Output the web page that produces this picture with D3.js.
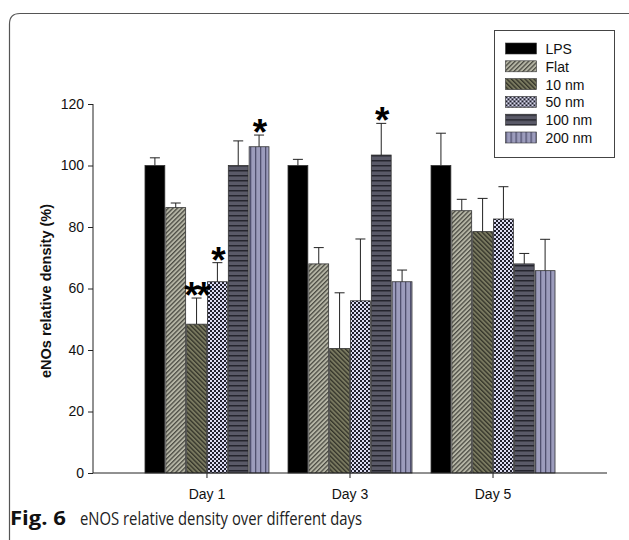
<!DOCTYPE html>
<html>
<head>
<meta charset="utf-8">
<script src="https://cdn.jsdelivr.net/npm/d3@7"></script>
<style>
  body { margin: 0; background: #fff; }
  svg { display: block; }
</style>
</head>
<body>
<svg id="chart" width="629" height="540"></svg>
<script>
// data
var days = ["Day 1", "Day 3", "Day 5"];
var series = ["LPS", "Flat", "10 nm", "50 nm", "100 nm", "200 nm"];
var means = [
  [100, 100, 100],      // LPS
  [86.3, 68, 85.3],     // Flat
  [48.4, 40.5, 78.5],   // 10 nm
  [62.2, 56, 82.6],     // 50 nm
  [100, 103.4, 68],     // 100 nm
  [106.1, 62.2, 65.8]   // 200 nm
];
var errors = [
  [2.5, 2, 10.5],
  [1.5, 5.3, 3.7],
  [8.5, 18.1, 10.8],
  [6.2, 20.1, 10.5],
  [8, 10.3, 3.4],
  [3.8, 3.8, 10.2]
];
var yTicks = [0, 20, 40, 60, 80, 100, 120];
var marks = [
  { day: "Day 1", series: "10 nm", label: "**" },
  { day: "Day 1", series: "50 nm", label: "*" },
  { day: "Day 1", series: "200 nm", label: "*" },
  { day: "Day 3", series: "100 nm", label: "*" }
];

var FONT = "'Liberation Sans', Arial, sans-serif";
var svg = d3.select("#chart");
var defs = svg.append("defs");

// fill patterns
function stripes(id, size, bg, fg, w, rot) {
  var p = defs.append("pattern").attr("id", id)
    .attr("patternUnits", "userSpaceOnUse")
    .attr("width", size).attr("height", size);
  if (rot) p.attr("patternTransform", "rotate(" + rot + ")");
  p.append("rect").attr("width", size).attr("height", size).attr("fill", bg);
  p.append("rect").attr("width", w).attr("height", size).attr("fill", fg);
}
stripes("pFlat", 3.2, "#b6b6a6", "#4c4c44", 1.3, 45);
stripes("p10", 3.2, "#7a7a60", "#34342a", 1.3, -45);
stripes("p200", 5, "#9c9cbc", "#50506e", 1.3, 0);

var p100 = defs.append("pattern").attr("id", "p100")
  .attr("patternUnits", "userSpaceOnUse").attr("width", 5).attr("height", 5);
p100.append("rect").attr("width", 5).attr("height", 5).attr("fill", "#5a5a68");
p100.append("rect").attr("width", 5).attr("height", 1.5).attr("fill", "#25252e");

var p50 = defs.append("pattern").attr("id", "p50")
  .attr("patternUnits", "userSpaceOnUse").attr("width", 4).attr("height", 4);
p50.append("rect").attr("width", 4).attr("height", 4).attr("fill", "#dcdcf2");
p50.append("rect").attr("width", 2).attr("height", 2).attr("fill", "#20202c");
p50.append("rect").attr("x", 2).attr("y", 2).attr("width", 2).attr("height", 2).attr("fill", "#20202c");

var fills = ["#000", "url(#pFlat)", "url(#p10)", "url(#p50)", "url(#p100)", "url(#p200)"];

// scales
var x0 = d3.scaleBand().domain(days).range([93, 607])
  .paddingInner(0.126).paddingOuter(0.36);
var x1 = d3.scaleBand().domain(series).range([0, x0.bandwidth()]);
var y = d3.scaleLinear().domain([0, 120]).range([473, 104]);

// outer figure frame
svg.append("path")
  .attr("d", "M629,13.5 L20,13.5 Q9.5,13.5 9.5,24 L9.5,540")
  .attr("fill", "none").attr("stroke", "#555").attr("stroke-width", 1.2);

// bars
var rows = [];
series.forEach(function (s, i) {
  days.forEach(function (d, j) {
    rows.push({ s: s, i: i, d: d, v: means[i][j], e: errors[i][j] });
  });
});

var g = svg.append("g");
g.selectAll("rect.bar").data(rows).enter().append("rect")
  .attr("class", "bar")
  .attr("x", function (r) { return x0(r.d) + x1(r.s) + 0.5; })
  .attr("width", x1.bandwidth() - 1)
  .attr("y", function (r) { return y(r.v); })
  .attr("height", function (r) { return y(0) - y(r.v); })
  .attr("fill", function (r) { return fills[r.i]; })
  .attr("stroke", "#333").attr("stroke-width", 0.8);

// error bars (upper only)
var eb = g.selectAll("g.err").data(rows).enter().append("g").attr("class", "err")
  .attr("transform", function (r) {
    return "translate(" + (x0(r.d) + x1(r.s) + x1.bandwidth() / 2) + ",0)";
  });
eb.append("line")
  .attr("y1", function (r) { return y(r.v); })
  .attr("y2", function (r) { return y(r.v + r.e); })
  .attr("stroke", "#222").attr("stroke-width", 1);
eb.append("line")
  .attr("x1", -5).attr("x2", 5)
  .attr("y1", function (r) { return y(r.v + r.e); })
  .attr("y2", function (r) { return y(r.v + r.e); })
  .attr("stroke", "#222").attr("stroke-width", 1);

// significance stars
g.selectAll("text.star").data(marks).enter().append("text")
  .attr("class", "star")
  .attr("x", function (m) { return x0(m.day) + x1(m.series) + x1.bandwidth() / 2; })
  .attr("y", function (m) {
    var i = series.indexOf(m.series), j = days.indexOf(m.day);
    return y(means[i][j] + errors[i][j]) + 10;
  })
  .attr("text-anchor", "middle")
  .style("font-family", FONT)
  .style("font-size", "37px").style("font-weight", "bold")
  .attr("letter-spacing", -2)
  .text(function (m) { return m.label; });

// axes
var yAxis = d3.axisLeft(y).tickValues(yTicks).tickSize(5).tickPadding(4);
var ya = svg.append("g").attr("transform", "translate(93,0)").call(yAxis);
var xa = svg.append("g").attr("transform", "translate(0,473)")
  .call(d3.axisBottom(x0).tickSize(5).tickPadding(11));
xa.select(".domain").attr("d", "M93,0H607");
[ya, xa].forEach(function (a) {
  a.attr("font-family", null).attr("font-size", null);
  a.selectAll("path, line").attr("stroke", "#222");
  a.selectAll("text").attr("fill", "#111")
    .style("font-family", FONT).style("font-size", "14px");
});
ya.select(".domain").attr("d", "M0,104V473");

svg.append("text")
  .attr("transform", "translate(51,291) rotate(-90)")
  .attr("text-anchor", "middle")
  .style("font-family", FONT)
  .style("font-size", "14.5px").style("font-weight", "bold")
  .attr("fill", "#111")
  .text("eNOs relative density (%)");

// legend
var lg = svg.append("g").attr("transform", "translate(494.5,30.5)");
lg.append("rect").attr("width", 120).attr("height", 127)
  .attr("fill", "#fff").attr("stroke", "#444").attr("stroke-width", 1);
var li = lg.selectAll("g.item").data(series).enter().append("g")
  .attr("transform", function (s, i) { return "translate(11," + (12.5 + i * 17.8) + ")"; });
li.append("rect").attr("width", 31).attr("height", 11)
  .attr("fill", function (s, i) { return fills[i]; })
  .attr("stroke", "#333").attr("stroke-width", 0.6);
li.append("text").attr("x", 40).attr("y", 11)
  .style("font-family", FONT).style("font-size", "14px")
  .attr("fill", "#111")
  .text(function (s) { return s; });

// caption
var CAPFONT = "'Open Sans', 'Noto Sans', sans-serif";
svg.append("text").attr("x", 10).attr("y", 525)
  .style("font-family", CAPFONT).style("font-size", "19px").style("font-weight", "bold")
  .attr("fill", "#111")
  .attr("textLength", 56).attr("lengthAdjust", "spacingAndGlyphs")
  .text("Fig. 6");
svg.append("text").attr("x", 80).attr("y", 525)
  .style("font-family", CAPFONT).style("font-size", "19px")
  .attr("fill", "#222")
  .attr("textLength", 282).attr("lengthAdjust", "spacingAndGlyphs")
  .text("eNOS relative density over different days");
</script>
</body>
</html>
